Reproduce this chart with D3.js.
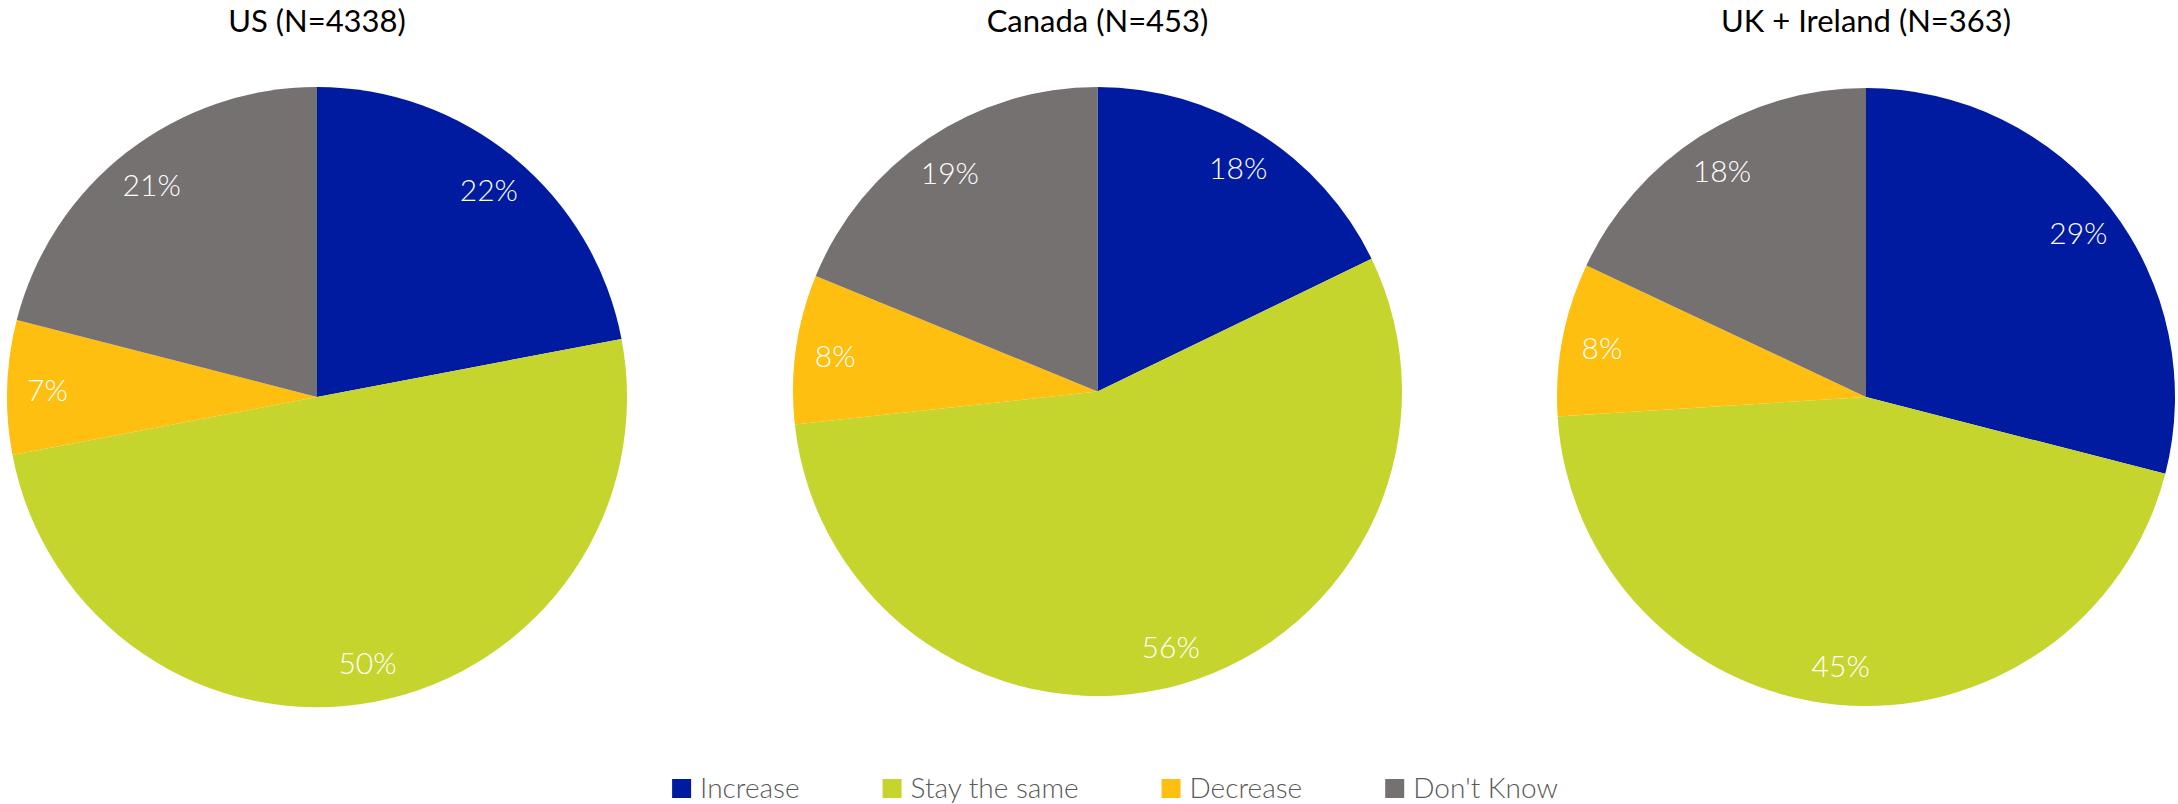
<!DOCTYPE html>
<html>
<head>
<meta charset="utf-8">
<script src="https://cdn.jsdelivr.net/npm/d3@7/dist/d3.min.js"></script>
<style>
  html, body { margin: 0; padding: 0; background: #ffffff; }
  svg { display: block; }
</style>
</head>
<body>
<svg id="chart" width="2178" height="804"></svg>
<script>
// Survey answers by region (percent of respondents)
const categories = ["Increase", "Stay the same", "Decrease", "Don't Know"];
const regions = ["US (N=4338)", "Canada (N=453)", "UK + Ireland (N=363)"];
const usValues = [22, 50, 7, 21];
const canadaValues = [18, 56, 8, 19];
const ukIrelandValues = [29, 45, 8, 18];
const seriesValues = [usValues, canadaValues, ukIrelandValues];

const colors = ["#001BA0", "#C5D52E", "#FEBF10", "#767171"];

// Panel geometry for the three pies
const panels = [
  { cx: 317, cy: 397, r: 310 },
  { cx: 1097.5, cy: 391.5, r: 304.5 },
  { cx: 1866, cy: 397, r: 309 }
];

const svg = d3.select("#chart");
const color = d3.scaleOrdinal().domain(categories).range(colors);

const pie = d3.pie()
  .sort(null)
  .value(d => d.value);

regions.forEach((title, i) => {
  const p = panels[i];
  const data = categories.map((c, k) => ({ category: c, value: seriesValues[i][k] }));
  const arcs = pie(data);
  const arc = d3.arc().innerRadius(0).outerRadius(p.r);
  const labelArc = d3.arc().innerRadius(p.r * 0.87).outerRadius(p.r * 0.87);

  const g = svg.append("g").attr("transform", `translate(${p.cx},${p.cy})`);

  g.selectAll("path.slice")
    .data(arcs)
    .join("path")
    .attr("class", "slice")
    .attr("d", arc)
    .attr("fill", d => color(d.data.category));

  g.selectAll("text.value")
    .data(arcs)
    .join("text")
    .attr("class", "value")
    .attr("transform", d => `translate(${labelArc.centroid(d)})`)
    .attr("text-anchor", "middle")
    .attr("dominant-baseline", "central")
    .attr("font-family", "Lato, 'Noto Sans', sans-serif")
    .attr("font-weight", 300)
    .attr("font-size", 30)
    .attr("fill", "#ffffff")
    .text(d => d.data.value + "%");

  svg.append("text")
    .attr("x", p.cx)
    .attr("y", 32)
    .attr("text-anchor", "middle")
    .attr("font-family", "Lato, 'Noto Sans', sans-serif")
    .attr("font-weight", 400)
    .attr("font-size", 31)
    .attr("fill", "#000000")
    .text(title);
});

// Legend along the bottom
const legend = svg.append("g");
const swatch = 19, textGap = 9, itemGap = 83;
let xPos = 0;
categories.forEach(c => {
  const item = legend.append("g").attr("transform", `translate(${xPos},0)`);
  item.append("rect")
    .attr("x", 0).attr("y", 0)
    .attr("width", swatch).attr("height", swatch)
    .attr("fill", color(c));
  const t = item.append("text")
    .attr("x", swatch + textGap)
    .attr("y", swatch)
    .attr("font-family", "Lato, 'Noto Sans', sans-serif")
    .attr("font-weight", 300)
    .attr("font-size", 28)
    .attr("fill", "#595959")
    .text(c);
  xPos += swatch + textGap + t.node().getComputedTextLength() + itemGap;
});
const legendWidth = xPos - itemGap;
legend.attr("transform", `translate(${1115 - legendWidth / 2},779)`);
</script>
</body>
</html>
